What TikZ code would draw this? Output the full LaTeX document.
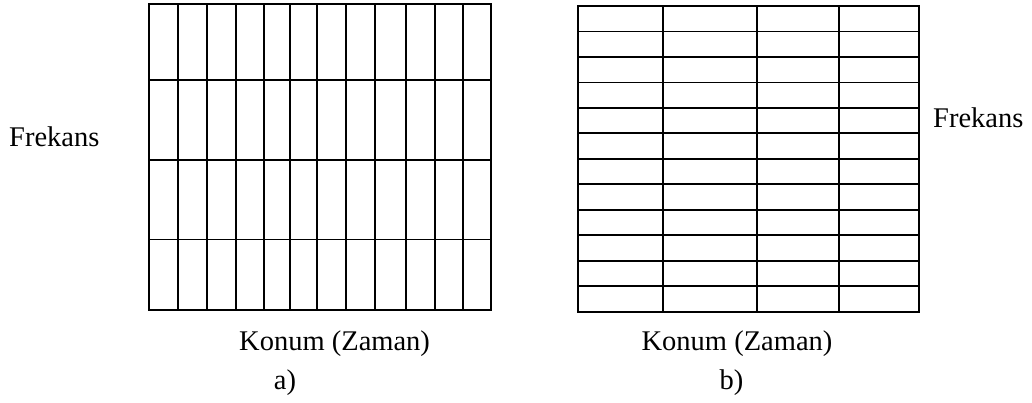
\documentclass[tikz,border=0pt]{standalone}
\usepackage{fontspec}
\setmainfont{LiberationSerif}[Extension=.ttf, UprightFont=*-Regular]
\begin{document}
\begin{tikzpicture}[x=1pt,y=-1pt,
  gridline/.style={line width=1.8pt, black},
  lbl/.style={inner sep=0pt, font=\fontsize{28.5}{30}\selectfont}]
\useasboundingbox (0,0) rectangle (1032,403);
% left grid (a)
\foreach \x in {178.3,207.3,236.3,263.7,290.3,317.3,345.7,375.3,405.7,434.7,463.3}
  \draw[gridline] (\x,4) -- (\x,310);
\foreach \y in {80,160,239.5}
  \draw[gridline] (149.3,\y) -- (490.7,\y);
\draw[gridline] (149.3,4) rectangle (490.7,310);
% right grid (b)
\foreach \x in {662.7,756.7,839.3}
  \draw[gridline] (\x,6) -- (\x,311.7);
\foreach \i in {1,...,11}
  \draw[gridline] (578,6+25.475*\i) -- (919.3,6+25.475*\i);
\draw[gridline] (578,6) rectangle (919.3,311.7);
% labels
\node[lbl, anchor=base west] (fa) at (9,147) {Frekans};
\node[lbl, anchor=base west] (fb) at (933,128) {Frekans};
\node[lbl, anchor=base] (ka) at (334.6,350.7) {Konum (Zaman)};
\node[lbl, anchor=base] (kb) at (737,350.7) {Konum (Zaman)};
\node[lbl, anchor=base] (la) at (285,389) {a)};
\node[lbl, anchor=base] (lb) at (731.5,389) {b)};
\end{tikzpicture}
\end{document}
